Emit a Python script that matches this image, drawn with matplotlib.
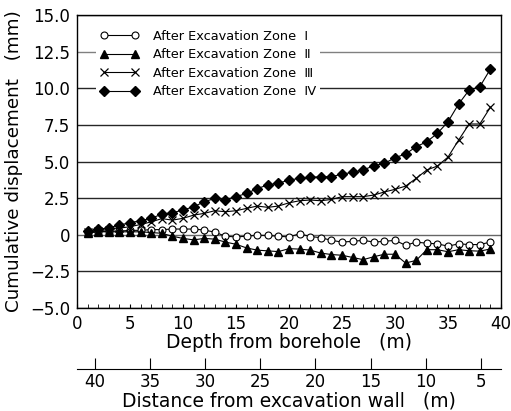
import matplotlib
matplotlib.use("Agg")
from matplotlib import pyplot as plt
from matplotlib.ticker import MultipleLocator

# Depth from borehole (m) and cumulative displacement (mm) per excavation zone.
depth = list(range(1, 40))

zone1 = [0.15, 0.2, 0.25, 0.25, 0.3, 0.3, 0.35, 0.35, 0.39, 0.39,
         0.39, 0.32, 0.18, -0.1, -0.15, -0.1, -0.03, -0.05, -0.1, -0.15,
         0.07, -0.12, -0.2, -0.38, -0.5, -0.45, -0.38, -0.5, -0.45, -0.38,
         -0.72, -0.5, -0.58, -0.62, -0.78, -0.62, -0.67, -0.67, -0.5]
zone2 = [0.15, 0.2, 0.2, 0.2, 0.2, 0.2, 0.15, 0.1, -0.1, -0.25,
         -0.35, -0.25, -0.3, -0.5, -0.65, -0.9, -1.05, -1.1, -1.15, -0.95,
         -0.98, -1.05, -1.25, -1.35, -1.4, -1.55, -1.7, -1.5, -1.33, -1.33,
         -1.93, -1.75, -1.02, -1.02, -1.16, -1.02, -1.09, -1.12, -0.97]
zone3 = [0.2, 0.28, 0.35, 0.45, 0.55, 0.7, 0.88, 1.1, 1.0, 1.12,
         1.34, 1.46, 1.64, 1.57, 1.64, 1.8, 1.96, 1.87, 1.96, 2.18,
         2.32, 2.37, 2.32, 2.41, 2.6, 2.6, 2.6, 2.71, 2.92, 3.1,
         3.32, 3.85, 4.42, 4.69, 5.3, 6.46, 7.56, 7.56, 8.7]
zone4 = [0.25, 0.37, 0.48, 0.66, 0.82, 0.96, 1.12, 1.41, 1.5, 1.69,
         1.91, 2.25, 2.48, 2.4, 2.6, 2.82, 3.15, 3.4, 3.52, 3.73,
         3.85, 3.92, 3.96, 3.96, 4.14, 4.26, 4.42, 4.71, 4.87, 5.26,
         5.51, 6.01, 6.35, 6.92, 7.71, 8.92, 9.88, 10.1, 11.31]

labels = ["After Excavation Zone  \u2160", "After Excavation Zone  \u2161",
          "After Excavation Zone  \u2162", "After Excavation Zone  \u2163"]

dist_ticks = [40, 35, 30, 25, 20, 15, 10, 5]

fig = plt.figure(figsize=(5.11, 4.11), dpi=100)
ax = fig.add_axes([0.1507, 0.2506, 0.8297, 0.7129])

ax.plot(depth, zone1, c="black", lw=0.8, marker="o", ms=5,
        mfc="white", mec="black", mew=0.8, label=labels[0])
ax.plot(depth, zone2, c="black", lw=0.8, marker="^", ms=6,
        mfc="black", mec="black", label=labels[1])
ax.plot(depth, zone3, c="black", lw=0.8, marker="x", ms=5.5,
        mec="black", mew=0.9, label=labels[2])
ax.plot(depth, zone4, c="black", lw=0.8, marker="D", ms=5,
        mfc="black", mec="black", label=labels[3])

# Formatting main axes.
ax.set_xlim(0, 40)
ax.set_ylim(-5, 15)
ax.xaxis.set_major_locator(MultipleLocator(5))
ax.xaxis.set_minor_locator(MultipleLocator(1))
ax.set_yticks([-5, -2.5, 0, 2.5, 5, 7.5, 10, 12.5, 15])
ax.set_yticklabels(["\u22125.0", "\u22122.5", "0", "2.5", "5.0", "7.5",
                    "10.0", "12.5", "15.0"])
ax.yaxis.grid(True, color="0.15", lw=1.0)
ax.get_ygridlines()[7].set_color("0.5")
ax.get_ygridlines()[2].set_color("0.4")
ax.set_axisbelow(True)
ax.tick_params(axis="x", which="both", direction="in", length=3,
               labelsize=12, pad=5)
ax.tick_params(axis="y", length=0, labelsize=12, pad=5)
for s in ax.spines.values():
    s.set_linewidth(1.0)

ax.set_xlabel("Depth from borehole   (m)", fontsize=13.5, labelpad=0)
ax.set_ylabel("Cumulative displacement   (mm)", fontsize=13.2, labelpad=5)

leg = ax.legend(loc="upper left", bbox_to_anchor=(0.045, 0.962),
                fontsize=9.3, numpoints=2, handlelength=3.0,
                labelspacing=0.42, borderpad=0.3, borderaxespad=0,
                handletextpad=1.1, fancybox=False, framealpha=1)
leg.get_frame().set_edgecolor("white")
leg.get_frame().set_linewidth(0)

# Secondary axis: distance from excavation wall.
ax2 = fig.add_axes([0.1507, 0.1022, 0.8297, 0.0001])
ax2.set_xlim(41.6, 3.2)
ax2.set_xticks(dist_ticks)
ax2.set_yticks([])
for name in ["top", "left", "right"]:
    ax2.spines[name].set_visible(False)
ax2.patch.set_visible(False)
ax2.tick_params(axis="x", direction="in", length=8, labelsize=12, pad=3)
ax2.set_xlabel("Distance from excavation wall   (m)", fontsize=13.5,
               labelpad=0)

plt.savefig("out.png", dpi=100)
